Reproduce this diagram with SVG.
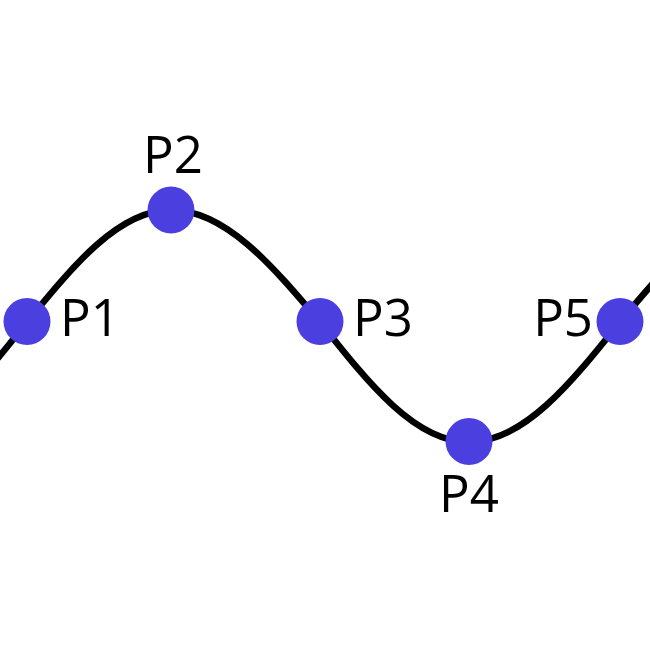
<svg xmlns="http://www.w3.org/2000/svg" width="650" height="650" viewBox="0 0 650 650">
<style>
.pt{fill:#4B40DF}
.lbl{font-family:"Open Sans","Noto Sans",sans-serif;font-size:51px;fill:#000}
.curve{fill:none;stroke:#000;stroke-width:6.5}
</style>
<rect width="650" height="650" fill="#fff"/>
<g id="connectors">
<path class="curve" d="M-122,442 C-68,442 -21.6,383.4 27,322 C74,264.6 119,210 171,210 C225,210 271.4,264.6 320,322 C368.6,383.4 415,442 469,442 C523.7,442 570.8,383.4 620,322 C668,264.6 714,210 768,210"/>
</g>
<g id="P1"><circle class="pt" cx="27" cy="321.5" r="23.5"/><text class="lbl" x="60" y="336">P1</text></g>
<g id="P2"><circle class="pt" cx="171" cy="210" r="23.5"/><text class="lbl" x="173" y="173" text-anchor="middle">P2</text></g>
<g id="P3"><circle class="pt" cx="320" cy="321.5" r="23.5"/><text class="lbl" x="353" y="336">P3</text></g>
<g id="P4"><circle class="pt" cx="469" cy="441.5" r="23.5"/><text class="lbl" x="469" y="512" text-anchor="middle">P4</text></g>
<g id="P5"><circle class="pt" cx="620" cy="321.5" r="23.5"/><text class="lbl" x="593" y="336" text-anchor="end">P5</text></g>
</svg>
